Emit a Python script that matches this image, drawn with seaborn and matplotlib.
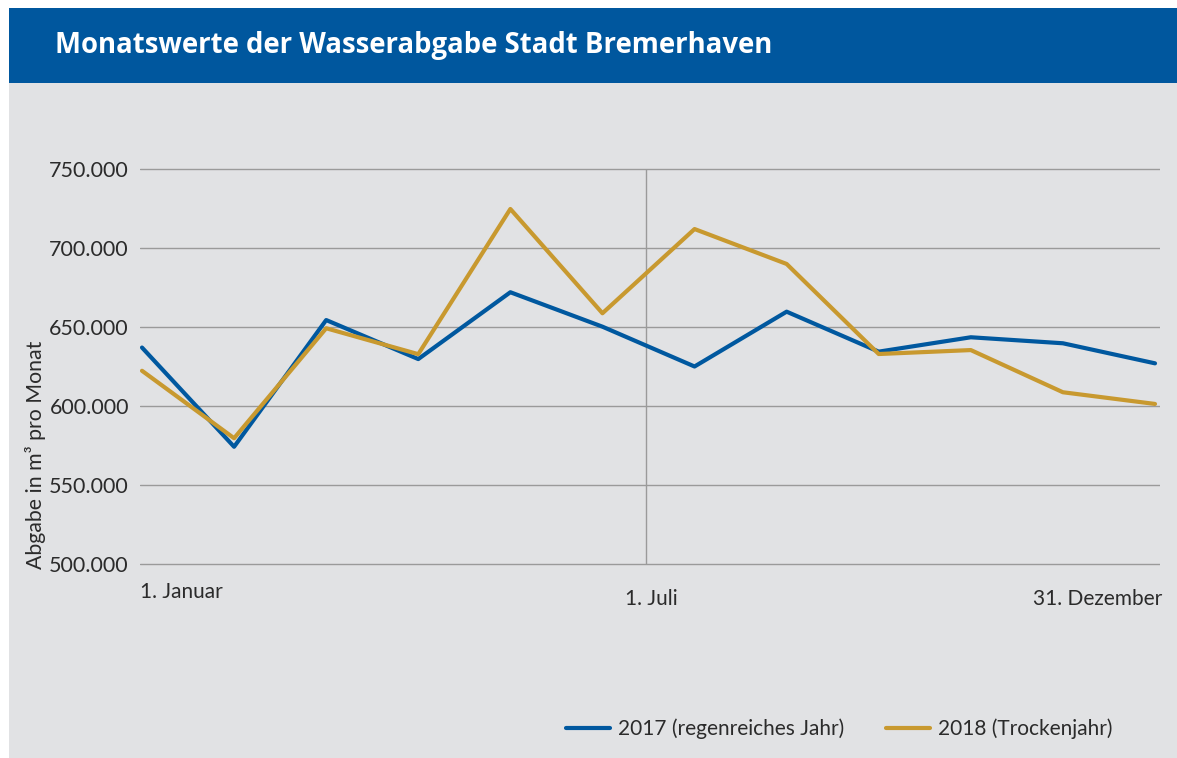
import matplotlib
matplotlib.use("Agg")
import matplotlib.pyplot as plt
import matplotlib.patches as mpatches
from matplotlib.ticker import FuncFormatter, FixedLocator
import seaborn as sns
import pandas as pd

# ---- data ----
months = list(range(1, 13))
values_2017 = [637000, 574200, 654400, 629700, 672000, 650200, 625000, 659700, 634400, 643500, 639700, 627000]
values_2018 = [622300, 579600, 649200, 632800, 724700, 658700, 712000, 689900, 632900, 635400, 608700, 601300]
series_names = ["2017 (regenreiches Jahr)", "2018 (Trockenjahr)"]
y_ticks = [500000, 550000, 600000, 650000, 700000, 750000]
x_labels = ["1. Januar", "1. Juli", "31. Dezember"]
title = "Monatswerte der Wasserabgabe Stadt Bremerhaven"
y_label = "Abgabe in m³ pro Monat"

BLUE = "#00589f"
GOLD = "#c8992f"
BG = "#e1e2e4"
GRID = "#9a9a9a"
TXT = "#2b2b2b"

df = pd.DataFrame({
    "Monat": months * 2,
    "Abgabe": values_2017 + values_2018,
    "Serie": [series_names[0]] * 12 + [series_names[1]] * 12,
})

sns.set_style("white")
plt.rcParams["font.family"] = ["Lato", "DejaVu Sans"]

W, H = 1177, 758
fig = plt.figure(figsize=(W / 100, H / 100), dpi=100)
fig.patch.set_facecolor("white")

# background panels
fig.patches.append(mpatches.Rectangle((9 / W, 0), 1 - 9 / W, 1 - 82.5 / H,
                                      transform=fig.transFigure, facecolor=BG,
                                      edgecolor="none", zorder=-10))
fig.patches.append(mpatches.Rectangle((9 / W, 1 - 82.5 / H), 1 - 9 / W, (82.5 - 8) / H,
                                      transform=fig.transFigure, facecolor="#00579e",
                                      edgecolor="none", zorder=-10))
fig.text(55 / W, 1 - 46 / H, title, color="white", fontsize=19.8, fontweight="bold",
         family=["Open Sans", "DejaVu Sans"], ha="left", va="center")

# axes geometry
ypad = 3000
ppu = 395 / 250000
ax_bottom = 564 + ypad * ppu
ax_top = 169 - ypad * ppu
x_left_px, x_right_px = 140, 1160
ax = fig.add_axes([x_left_px / W, 1 - ax_bottom / H,
                   (x_right_px - x_left_px) / W, (ax_bottom - ax_top) / H])
ax.set_zorder(5)
ax.set_facecolor("none")

sns.lineplot(data=df, x="Monat", y="Abgabe", hue="Serie", palette=[BLUE, GOLD],
             linewidth=3.0, ax=ax, legend=True, zorder=3)

px_per_month = (1155 - 142) / 11
x0 = 1 - (142 - x_left_px) / px_per_month
x1 = 12 + (x_right_px - 1155) / px_per_month
ax.set_xlim(x0, x1)
ax.set_ylim(500000 - ypad, 750000 + ypad)

for s in ax.spines.values():
    s.set_visible(False)
ax.yaxis.set_major_locator(FixedLocator(y_ticks))
ax.yaxis.set_major_formatter(FuncFormatter(lambda v, p: f"{int(v):,}".replace(",", ".")))
ax.grid(axis="y", color=GRID, linewidth=1.0, zorder=1)
ax.grid(axis="x", visible=False)
ax.tick_params(axis="y", length=0, pad=8, labelsize=15.5, labelcolor=TXT)
ax.set_xticks([])
ax.set_xlabel("")
ax.set_ylabel("")

# mid-year marker
juli = 1 + (646 - 142) / px_per_month
ax.vlines(juli, 500000, 750000, color=GRID, linewidth=1.0, zorder=1)

# x labels
fs = 15
fig.text(140 / W, 1 - 592 / H, x_labels[0], fontsize=fs, color=TXT, ha="left", va="center")
fig.text(651 / W, 1 - 599 / H, x_labels[1], fontsize=fs, color=TXT, ha="center", va="center")
fig.text(1162 / W, 1 - 599 / H, x_labels[2], fontsize=fs, color=TXT, ha="right", va="center")

fig.text(36 / W, 1 - 455 / H, y_label, fontsize=15.3, color=TXT, rotation=90,
         ha="center", va="center")

# legend
handles, labels = ax.get_legend_handles_labels()
ax.legend(handles, labels, loc="center left", bbox_to_anchor=(547 / W, 1 - 729 / H),
          bbox_transform=fig.transFigure, ncol=2, frameon=False, fontsize=15,
          handlelength=2.1, handletextpad=0.4, columnspacing=2.0, labelcolor=TXT)

fig.savefig("out.png", dpi=100, facecolor=fig.get_facecolor())
